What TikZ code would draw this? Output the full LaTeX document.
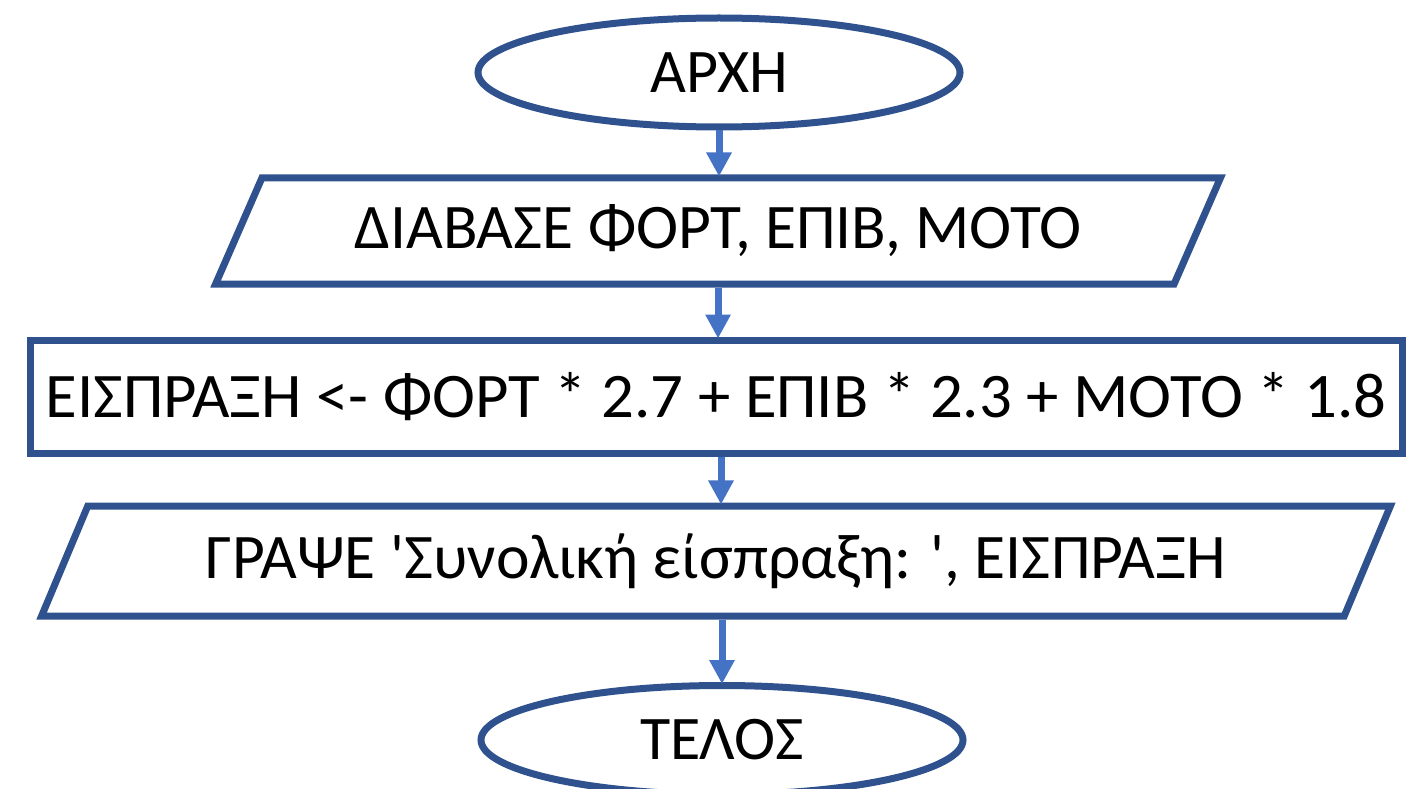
\documentclass[tikz,border=0pt]{standalone}
\usepackage{fontspec}
\setmainfont{Carlito}[Ligatures=TeXOff]
\usetikzlibrary{shapes.geometric,arrows.meta}
\definecolor{outl}{HTML}{2F528F}
\definecolor{arr}{HTML}{4472C4}
\tikzset{
  shp/.style={draw=outl,line width=7pt,fill=white,inner sep=0pt,font=\fontsize{63.5pt}{76pt}\selectfont},
  term/.style={shp,ellipse,minimum width=482pt,minimum height=109pt,font=\fontsize{62pt}{74pt}\selectfont},
  io/.style={shp,trapezium,trapezium stretches=true},
  proc/.style={shp,rectangle},
  conn/.style={draw=arr,line width=7pt,-{Triangle[width=24pt,length=24pt]},shorten >=-2pt},
}
\begin{document}
\begin{tikzpicture}[x=1pt,y=-1pt]
\useasboundingbox (0,0) rectangle (1406,789);
\node[term] (start) at (719,72.5) {ΑΡΧΗ};
\node[io,trapezium left angle=54.7,trapezium right angle=125.3,minimum width=1015pt,minimum height=106pt] (read) at (718,231) {ΔΙΑΒΑΣΕ ΦΟΡΤ, ΕΠΙΒ, ΜΟΤΟ};
\node[proc,minimum width=1372pt,minimum height=113pt] (calc) at (716,396.5) {\scalebox{1.02}[1]{ΕΙΣΠΡΑΞΗ <- ΦΟΡΤ * 2.7 + ΕΠΙΒ * 2.3 + ΜΟΤΟ * 1.8}};
\node[io,trapezium left angle=55.7,trapezium right angle=124.3,minimum width=1368pt,minimum height=110pt] (write) at (716,561) {ΓΡΑΨΕ 'Συνολική είσπραξη: ', ΕΙΣΠΡΑΞΗ};
\node[term] (stop) at (722,740) {ΤΕΛΟΣ};
\draw[conn] (start.south) -- (read.north -| start.south);
\draw[conn] (read.south) -- (calc.north -| read.south);
\draw[conn] (calc.south -| 721,0) -- (write.north -| 721,0);
\draw[conn] (write.south -| 722,0) -- (stop.north);
\end{tikzpicture}
\end{document}
